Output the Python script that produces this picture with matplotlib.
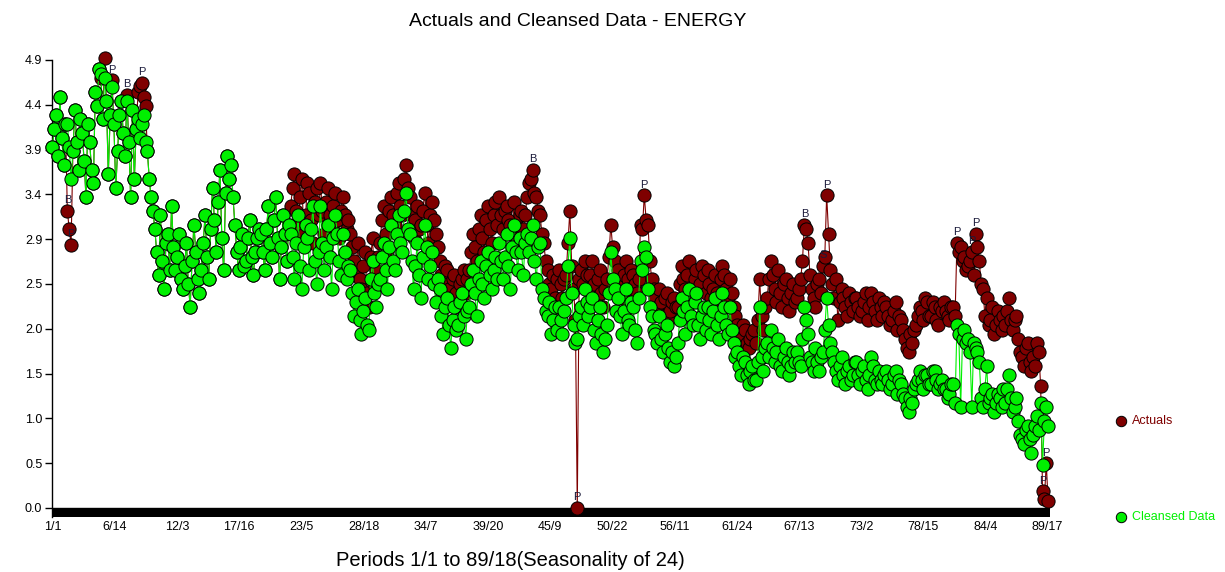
import numpy as np
import matplotlib
matplotlib.use('Agg')
import matplotlib.pyplot as plt
from matplotlib.lines import Line2D

# values, one row = 16 samples (about 64 periods)
actuals = [
    3.95, 4.15, 4.30, 3.85, 4.50, 4.05, 3.75, 4.20, 3.25, 3.05, 2.88, 3.90, 4.35, 4.00, 3.70, 4.25,
    4.10, 3.80, 3.40, 4.20, 4.00, 3.70, 3.55, 4.55, 4.40, 4.80, 4.70, 4.25, 4.92, 4.45, 3.65, 4.30,
    4.68, 4.20, 3.50, 3.90, 4.30, 4.45, 4.10, 3.85, 4.52, 4.00, 3.40, 4.35, 3.60, 4.15, 4.55, 4.62,
    4.65, 4.50, 4.40, 3.90, 3.60, 3.40, 3.25, 3.05, 2.80, 2.55, 3.20, 2.70, 2.40, 2.90, 3.00, 2.60,
    3.30, 2.85, 2.60, 2.75, 3.00, 2.50, 2.40, 2.65, 2.90, 2.45, 2.20, 2.70, 3.10, 2.80, 2.50, 2.35,
    2.60, 2.90, 3.20, 2.75, 2.50, 3.05, 3.50, 3.15, 2.80, 3.35, 3.70, 2.95, 2.60, 3.45, 3.85, 3.60,
    3.75, 3.40, 3.10, 2.80, 2.60, 2.85, 3.00, 2.65, 2.70, 2.95, 3.15, 2.75, 2.55, 2.80, 2.95, 3.05,
    3.00, 2.80, 2.60, 3.05, 3.30, 2.90, 2.75, 3.15, 3.40, 2.95, 2.50, 2.85, 3.20, 3.00, 2.70, 3.10,
    3.30, 3.50, 3.65, 3.25, 3.10, 3.40, 3.60, 3.00, 3.20, 3.55, 3.45, 3.15, 2.90, 3.35, 3.50, 3.20,
    3.55, 3.25, 3.00, 3.35, 3.50, 3.20, 3.10, 3.30, 3.45, 3.15, 2.95, 3.25, 3.40, 3.20, 3.05, 3.15,
    3.00, 2.85, 2.70, 2.55, 2.90, 2.50, 2.40, 2.65, 2.80, 2.35, 2.20, 2.75, 2.95, 2.45, 2.60, 2.75,
    2.90, 3.15, 3.30, 3.00, 2.80, 3.25, 3.40, 3.20, 3.10, 3.45, 3.55, 3.30, 3.20, 3.60, 3.75, 3.50,
    3.40, 3.20, 2.95, 3.15, 3.30, 3.05, 3.10, 3.25, 3.45, 3.10, 2.90, 3.20, 3.35, 3.15, 3.00, 2.85,
    2.70, 2.55, 2.45, 2.65, 2.60, 2.40, 2.30, 2.50, 2.55, 2.35, 2.20, 2.45, 2.50, 2.60, 2.35, 2.50,
    2.60, 2.80, 3.00, 2.85, 2.70, 3.05, 3.20, 2.95, 2.80, 3.15, 3.30, 3.05, 2.90, 3.20, 3.35, 3.10,
    3.40, 3.20, 3.05, 3.25, 3.30, 3.15, 3.10, 3.00, 3.35, 3.10, 2.95, 3.20, 3.25, 3.05, 3.20, 3.40,
    3.55, 3.60, 3.70, 3.45, 3.40, 3.25, 3.20, 3.00, 2.90, 2.70, 2.60, 2.45, 2.40, 2.55, 2.30, 2.50,
    2.60, 2.45, 2.30, 2.50, 2.55, 2.90, 3.25, 2.65, 2.40, 2.05, 0.00, 2.50, 2.60, 2.45, 2.70, 2.55,
    2.40, 2.55, 2.70, 2.45, 2.30, 2.50, 2.60, 2.35, 2.20, 2.40, 2.50, 2.75, 3.10, 2.85, 2.70, 2.45,
    2.60, 2.45, 2.30, 2.55, 2.70, 2.50, 2.40, 2.60, 2.55, 2.45, 2.35, 2.50, 3.10, 3.05, 3.42, 3.15,
    3.10, 2.70, 2.50, 2.40, 2.30, 2.20, 2.40, 2.25, 2.10, 2.30, 2.35, 2.05, 2.15, 2.25, 2.30, 2.20,
    2.20, 2.45, 2.65, 2.50, 2.40, 2.55, 2.70, 2.35, 2.30, 2.50, 2.60, 2.40, 2.45, 2.65, 2.55, 2.35,
    2.60, 2.45, 2.30, 2.40, 2.55, 2.35, 2.25, 2.50, 2.65, 2.55, 2.40, 2.30, 2.50, 2.35, 2.20, 2.10,
    2.00, 1.90, 1.85, 2.00, 1.95, 1.80, 1.75, 1.85, 1.90, 1.95, 1.80, 2.05, 2.50, 2.10, 1.95, 2.20,
    2.30, 2.50, 2.70, 2.55, 2.40, 2.25, 2.60, 2.35, 2.20, 2.45, 2.50, 2.30, 2.15, 2.35, 2.45, 2.25,
    2.30, 2.40, 2.50, 2.70, 3.10, 3.05, 2.90, 2.55, 2.40, 2.30, 2.20, 2.45, 2.50, 2.35, 2.65, 2.75,
    3.42, 3.00, 2.60, 2.45, 2.30, 2.50, 2.05, 2.25, 2.40, 2.30, 2.20, 2.10, 2.35, 2.25, 2.15, 2.30,
    2.30, 2.20, 2.10, 2.15, 2.25, 2.35, 2.05, 2.20, 2.35, 2.25, 2.15, 2.05, 2.30, 2.20, 2.10, 2.25,
    2.20, 2.10, 2.00, 2.05, 2.15, 2.25, 1.95, 2.10, 2.05, 1.95, 1.85, 1.75, 1.70, 1.90, 1.80, 1.95,
    2.00, 2.10, 2.20, 2.15, 2.05, 2.30, 2.25, 2.10, 2.10, 2.25, 2.20, 2.05, 2.00, 2.20, 2.15, 2.25,
    2.15, 2.10, 2.05, 2.20, 2.20, 2.10, 2.90, 2.80, 2.85, 2.70, 2.75, 2.60, 2.65, 2.70, 2.80, 2.55,
    3.00, 2.85, 2.70, 2.45, 2.40, 2.10, 2.30, 2.00, 2.05, 2.20, 1.90, 2.00, 2.15, 2.05, 1.95, 2.10,
    2.00, 2.15, 2.30, 2.05, 1.95, 2.05, 2.10, 1.85, 1.70, 1.65, 1.55, 1.75, 1.80, 1.60, 1.50, 1.65,
    1.55, 1.80, 1.70, 1.33, 0.18, 0.10, 0.49, 0.07,
]

cleansed = [
    3.95, 4.15, 4.30, 3.85, 4.50, 4.05, 3.75, 4.20, 4.20, 3.95, 3.60, 3.90, 4.35, 4.00, 3.70, 4.25,
    4.10, 3.80, 3.40, 4.20, 4.00, 3.70, 3.55, 4.55, 4.40, 4.80, 4.75, 4.25, 4.70, 4.45, 3.65, 4.30,
    4.60, 4.20, 3.50, 3.90, 4.30, 4.45, 4.10, 3.85, 4.45, 4.00, 3.40, 4.35, 3.60, 4.15, 4.25, 4.05,
    4.20, 4.30, 4.00, 3.90, 3.60, 3.40, 3.25, 3.05, 2.80, 2.55, 3.20, 2.70, 2.40, 2.90, 3.00, 2.60,
    3.30, 2.85, 2.60, 2.75, 3.00, 2.50, 2.40, 2.65, 2.90, 2.45, 2.20, 2.70, 3.10, 2.80, 2.50, 2.35,
    2.60, 2.90, 3.20, 2.75, 2.50, 3.05, 3.50, 3.15, 2.80, 3.35, 3.70, 2.95, 2.60, 3.45, 3.85, 3.60,
    3.75, 3.40, 3.10, 2.80, 2.60, 2.85, 3.00, 2.65, 2.70, 2.95, 3.15, 2.75, 2.55, 2.80, 2.95, 3.05,
    3.00, 2.80, 2.60, 3.05, 3.30, 2.90, 2.75, 3.15, 3.40, 2.95, 2.50, 2.85, 3.20, 3.00, 2.70, 3.10,
    3.00, 2.75, 2.50, 2.90, 3.20, 2.65, 2.40, 2.85, 3.10, 2.95, 2.60, 3.05, 3.30, 2.70, 2.45, 2.80,
    3.30, 2.90, 2.60, 2.85, 3.10, 2.75, 2.40, 2.95, 3.20, 3.00, 2.70, 2.55, 3.00, 2.80, 2.50, 2.65,
    2.60, 2.35, 2.10, 2.25, 2.40, 2.05, 1.90, 2.15, 2.30, 2.00, 1.95, 2.50, 2.70, 2.35, 2.20, 2.45,
    2.50, 2.75, 2.90, 2.60, 2.40, 2.85, 3.10, 2.70, 2.60, 3.00, 3.20, 2.90, 2.80, 3.25, 3.45, 3.05,
    3.00, 2.70, 2.40, 2.65, 2.90, 2.55, 2.30, 2.75, 3.10, 2.85, 2.50, 2.65, 2.80, 2.45, 2.25, 2.50,
    2.40, 2.10, 1.90, 2.20, 2.30, 2.00, 1.75, 2.05, 2.20, 1.95, 2.00, 2.25, 2.35, 2.10, 1.85, 2.15,
    2.20, 2.45, 2.60, 2.35, 2.10, 2.50, 2.70, 2.45, 2.30, 2.65, 2.80, 2.55, 2.40, 2.60, 2.75, 2.50,
    2.90, 2.70, 2.50, 2.75, 3.00, 2.65, 2.40, 2.85, 3.10, 2.80, 2.60, 2.95, 2.80, 2.55, 2.90, 3.00,
    2.80, 2.95, 3.10, 2.70, 2.50, 2.85, 2.90, 2.40, 2.30, 2.15, 2.10, 2.25, 1.90, 2.05, 2.20, 1.95,
    2.20, 2.05, 1.90, 2.15, 2.30, 2.65, 2.95, 2.35, 2.00, 1.80, 1.85, 2.10, 2.20, 2.00, 2.40, 2.25,
    2.10, 2.20, 2.30, 1.95, 1.80, 2.05, 2.20, 1.90, 1.70, 1.85, 2.00, 2.35, 2.80, 2.50, 2.40, 2.15,
    2.30, 2.10, 1.90, 2.15, 2.40, 2.05, 2.00, 2.25, 2.20, 1.95, 1.80, 2.30, 2.70, 2.60, 2.85, 2.75,
    2.40, 2.20, 2.10, 1.95, 1.90, 1.80, 2.10, 1.85, 1.70, 1.90, 2.00, 1.75, 1.60, 1.70, 1.55, 1.65,
    1.80, 2.05, 2.30, 2.15, 1.90, 2.20, 2.40, 2.10, 2.00, 2.25, 2.35, 2.00, 1.85, 2.10, 2.20, 1.95,
    2.20, 2.05, 1.90, 2.15, 2.30, 2.00, 1.85, 2.10, 2.35, 2.20, 2.00, 1.90, 2.20, 1.95, 1.80, 1.65,
    1.70, 1.55, 1.45, 1.65, 1.60, 1.45, 1.35, 1.50, 1.55, 1.40, 1.40, 1.60, 2.20, 1.65, 1.50, 1.75,
    1.80, 1.65, 1.95, 1.75, 1.60, 1.70, 1.85, 1.55, 1.50, 1.65, 1.75, 1.60, 1.45, 1.55, 1.70, 1.60,
    1.70, 1.60, 1.55, 1.85, 2.20, 2.05, 1.90, 1.65, 1.60, 1.50, 1.75, 1.60, 1.50, 1.65, 1.70, 1.95,
    2.30, 2.00, 1.80, 1.70, 1.60, 1.50, 1.40, 1.55, 1.65, 1.45, 1.35, 1.50, 1.55, 1.40, 1.45, 1.60,
    1.60, 1.45, 1.35, 1.50, 1.55, 1.40, 1.30, 1.45, 1.65, 1.55, 1.40, 1.35, 1.50, 1.40, 1.35, 1.45,
    1.50, 1.40, 1.30, 1.35, 1.45, 1.50, 1.25, 1.40, 1.35, 1.25, 1.20, 1.10, 1.05, 1.20, 1.15, 1.30,
    1.35, 1.40, 1.50, 1.40, 1.30, 1.45, 1.45, 1.35, 1.35, 1.50, 1.50, 1.40, 1.30, 1.35, 1.40, 1.30,
    1.30, 1.20, 1.25, 1.35, 1.35, 1.15, 2.00, 1.90, 1.10, 1.85, 1.95, 1.80, 1.85, 1.70, 1.10, 1.80,
    1.75, 1.70, 1.60, 1.20, 1.10, 1.30, 1.55, 1.15, 1.20, 1.25, 1.05, 1.15, 1.25, 1.20, 1.10, 1.30,
    1.15, 1.30, 1.45, 1.20, 1.05, 1.10, 1.20, 0.95, 0.80, 0.75, 0.70, 0.85, 0.90, 0.75, 0.60, 0.80,
    0.90, 1.00, 0.85, 1.15, 0.47, 0.95, 1.10, 0.90,
]

# outlier flags shown above the actuals (sample index, letter)
flag_idx = [8, 10, 28, 32, 40, 48, 258, 282, 318, 404, 414, 416, 486, 494, 496, 532, 534]
flag_txt = ['B', 'P', 'P', 'P', 'B', 'P', 'B', 'P', 'P', 'B', 'S', 'P', 'P', 'P', 'P', 'P', 'P']

tick_labels = ['1/1', '6/14', '12/3', '17/16', '23/5', '28/18', '34/7', '39/20', '45/9',
               '50/22', '56/11', '61/24', '67/13', '73/2', '78/15', '84/4', '89/17']
n_periods = 2130
season = 24

RED = '#7f0000'
GREEN = '#00f000'


def main():
    plt.rcParams['font.family'] = ['Liberation Sans', 'DejaVu Sans']
    fig = plt.figure(figsize=(12.25, 5.72), dpi=100)
    ax = fig.add_axes([52 / 1225, 55 / 572, 998 / 1225, 457 / 572])

    x = np.linspace(0, n_periods - 1, len(actuals))

    ax.plot(x, actuals, '-', color=RED, lw=0.8, marker='o', ms=9.5, mfc=RED, mec='black',
            mew=0.7, clip_on=False, zorder=3)
    ax.plot(x, cleansed, '-', color=GREEN, lw=0.8, marker='o', ms=9.5, mfc=GREEN, mec='black',
            mew=0.7, clip_on=False, zorder=4)

    for i, t in zip(flag_idx, flag_txt):
        ax.annotate(t, (x[i], actuals[i]), xytext=(0, 4), textcoords='offset points',
                    ha='center', va='bottom', fontsize=8, color='#1a1a3a', zorder=5)

    ax.axhspan(-0.1, 0.0, color='black', zorder=2)
    ax.set_xlim(-1, 2133)
    ax.set_ylim(-0.1, 4.9)

    yt = [0.49 * k for k in range(11)]
    ax.set_yticks(yt)
    ax.set_yticklabels(['%.1f' % v for v in [0.0, 0.5, 1.0, 1.5, 2.0, 2.5, 2.9, 3.4, 3.9, 4.4, 4.9]])
    ax.set_xticks([133 * k for k in range(len(tick_labels))])
    ax.set_xticklabels(tick_labels)
    ax.tick_params(axis='y', length=5, width=1, labelsize=9, pad=2)
    ax.tick_params(axis='x', length=0, labelsize=9, pad=3)

    for s in ['top', 'right', 'bottom']:
        ax.spines[s].set_visible(False)
    ax.spines['left'].set_linewidth(1)

    fig.text(578 / 1225, 1 - 22 / 572, 'Actuals and Cleansed Data - ENERGY', ha='center',
             va='center', fontsize=14)
    fig.text(510 / 1225, 1 - 561 / 572, 'Periods 1/1 to 89/18(Seasonality of 24)', ha='center',
             va='center', fontsize=14.5)

    # legend on the right
    for yy, name, col in [(421, 'Actuals', RED), (517, 'Cleansed Data', GREEN)]:
        fig.add_artist(Line2D([1121 / 1225], [1 - yy / 572], marker='o', ms=7.5, mfc=col,
                              mec='black', mew=0.7, ls='', transform=fig.transFigure))
        fig.text(1132 / 1225, 1 - yy / 572, name, ha='left', va='center', fontsize=9, color=col)

    fig.savefig('out.png', dpi=100, facecolor='white')


if __name__ == '__main__':
    main()
